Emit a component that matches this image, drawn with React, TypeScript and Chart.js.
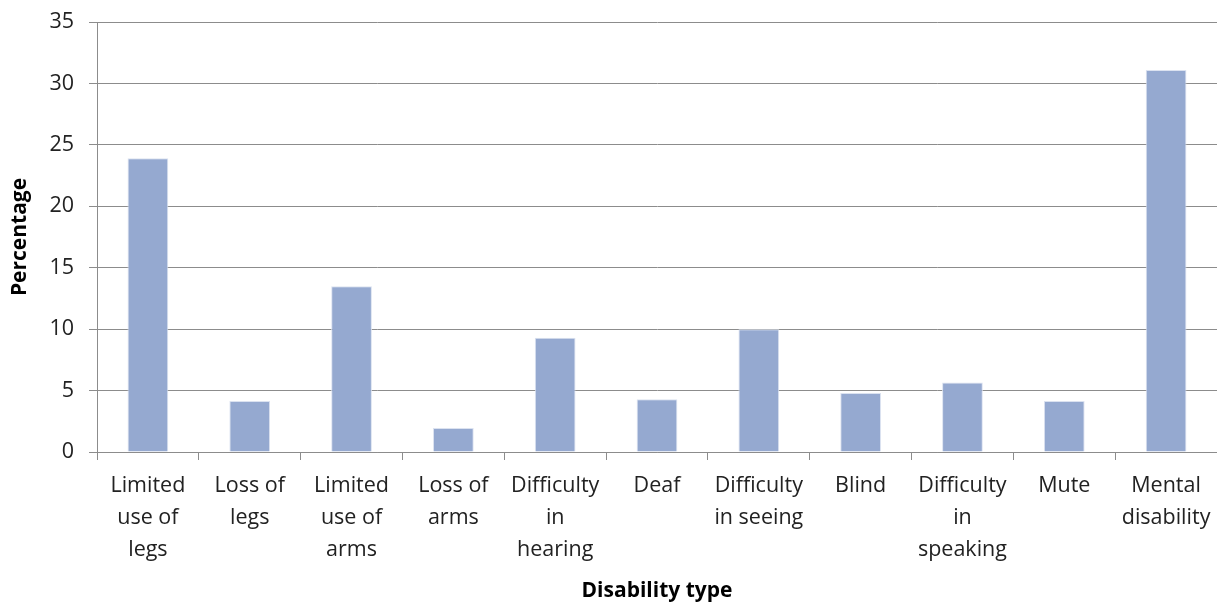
import React, { useEffect, useRef } from "react";
import { Chart, registerables } from "chart.js";

Chart.register(...registerables);

const categories: string[][] = [
  ["Limited", "use of", "legs"],
  ["Loss of", "legs"],
  ["Limited", "use of", "arms"],
  ["Loss of", "arms"],
  ["Difficulty", "in", "hearing"],
  ["Deaf"],
  ["Difficulty", "in seeing"],
  ["Blind"],
  ["Difficulty", "in", "speaking"],
  ["Mute"],
  ["Mental", "disability"],
];

const percentages: number[] = [23.9, 4.15, 13.5, 1.95, 9.3, 4.3, 10.0, 4.8, 5.65, 4.15, 31.1];

const yTitle = "Percentage";
const xTitle = "Disability type";

const FONT = "'Open Sans', Lato, sans-serif";

export default function App() {
  const ref = useRef<HTMLCanvasElement | null>(null);

  useEffect(() => {
    if (!ref.current) return;
    const chart = new Chart(ref.current, {
      type: "bar",
      data: {
        labels: categories,
        datasets: [
          {
            data: percentages,
            backgroundColor: "#95a9d0",
            borderColor: "#dbe2f0",
            borderWidth: 1,
            categoryPercentage: 1,
            barPercentage: 0.4,
          },
        ],
      },
      options: {
        animation: false,
        responsive: false,
        maintainAspectRatio: false,
        layout: { padding: { top: 22, right: 0, left: 0, bottom: 0 } },
        plugins: {
          legend: { display: false },
          tooltip: { enabled: false },
        },
        scales: {
          x: {
            offset: true,
            grid: {
              display: true,
              offset: true,
              drawOnChartArea: false,
              drawTicks: true,
              tickLength: 8,
              color: "#8c8c8c",
            },
            border: { color: "#8c8c8c", width: 1 },
            ticks: {
              color: "#222",
              font: { family: FONT, size: 21.5, lineHeight: 1.49 },
              maxRotation: 0,
              autoSkip: false,
              padding: 10,
            },
            title: {
              display: true,
              text: xTitle,
              color: "#000",
              font: { family: FONT, size: 21, weight: "bold" },
              padding: { top: 0, bottom: 0 },
            },
            afterFit: (scale: any) => {
              scale.height = 152;
              scale.paddingRight = 0;
              scale.paddingLeft = 0;
            },
          },
          y: {
            min: 0,
            max: 35,
            ticks: {
              stepSize: 5,
              color: "#222",
              font: { family: FONT, size: 21.5 },
              padding: 15,
            },
            grid: {
              color: "#8c8c8c",
              tickLength: 8,
            },
            border: { color: "#8c8c8c", width: 1 },
            title: {
              display: true,
              text: yTitle,
              color: "#000",
              font: { family: FONT, size: 21, weight: "bold" },
              padding: { top: 7, bottom: 4 },
            },
            afterFit: (scale: any) => {
              scale.width = 97;
              scale.paddingTop = 0;
              scale.paddingBottom = 0;
            },
          },
        },
      },
    });
    return () => chart.destroy();
  }, []);

  return (
    <div style={{ position: "fixed", left: 0, top: 0, width: 1217, height: 604, background: "#fff" }}>
      <canvas ref={ref} width={1217} height={604} style={{ width: 1217, height: 604 }} />
    </div>
  );
}
